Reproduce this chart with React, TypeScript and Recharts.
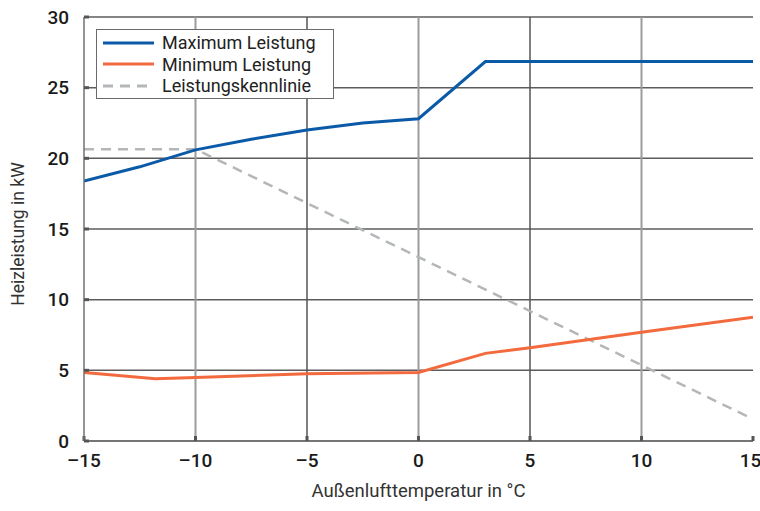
import {
  CartesianGrid,
  Label,
  Line,
  LineChart,
  ReferenceLine,
  XAxis,
  YAxis,
} from "recharts";

// Außentemperatur (°C) und Heizleistung (kW)
const MAX_TEMPS = [-15, -12.5, -10, -7.5, -5, -2.5, 0, 3, 15];
const MAX_KW = [18.4, 19.4, 20.6, 21.35, 22.0, 22.5, 22.8, 26.85, 26.85];

const MIN_TEMPS = [-15, -11.8, -10, -5, 0, 3, 5, 10, 15];
const MIN_KW = [4.85, 4.4, 4.5, 4.75, 4.85, 6.2, 6.6, 7.7, 8.75];

const CURVE_TEMPS = [-15, -10, 15];
const CURVE_KW = [20.65, 20.65, 1.55];

const X_TICKS = [-15, -10, -5, 0, 5, 10, 15];
const Y_TICKS = [0, 5, 10, 15, 20, 25, 30];

const SERIES = [
  { name: "Maximum Leistung", color: "#0b5aa7", dash: undefined as string | undefined },
  { name: "Minimum Leistung", color: "#f26a3d", dash: undefined as string | undefined },
  { name: "Leistungskennlinie", color: "#b3b7b9", dash: "10 7" },
];

const toPoints = (xs: number[], ys: number[]) => xs.map((t, i) => ({ t, kw: ys[i] }));

const maxData = toPoints(MAX_TEMPS, MAX_KW);
const minData = toPoints(MIN_TEMPS, MIN_KW);
const curveData = toPoints(CURVE_TEMPS, CURVE_KW);

const FONT = "Roboto, 'DejaVu Sans', sans-serif";
const fmt = (v: number) => (v < 0 ? `\u2013${-v}` : `${v}`);

function YTitle(props: any) {
  const vb = props.viewBox || {};
  const cy = (vb.y ?? 0) + (vb.height ?? 0) / 2 + 5;
  return (
    <text
      x={24}
      y={cy}
      transform={`rotate(-90, 24, ${cy})`}
      textAnchor="middle"
      fontSize={17.5}
      fill="#333"
      fontFamily={FONT}
    >
      Heizleistung in kW
    </text>
  );
}

function LegendBox() {
  return (
    <div
      style={{
        position: "absolute",
        left: 96,
        top: 29,
        width: 236,
        height: 66,
        border: "1px solid #6a6a6a",
        background: "#fff",
        fontFamily: FONT,
        fontSize: 18,
        color: "#222",
        paddingTop: 2,
        boxSizing: "content-box",
      }}
    >
      {SERIES.map((s) => (
        <div
          key={s.name}
          style={{ display: "flex", alignItems: "center", height: 21.5 }}
        >
          <svg width={51} height={8} style={{ marginLeft: 6, marginRight: 8 }}>
            <line
              x1={0}
              y1={4}
              x2={51}
              y2={4}
              stroke={s.color}
              strokeWidth={3}
              strokeDasharray={s.dash}
            />
          </svg>
          <span style={{ lineHeight: "21px" }}>{s.name}</span>
        </div>
      ))}
    </div>
  );
}

export default function App() {
  const tickStyle = { fill: "#1a1a1a", fontSize: 19, fontWeight: 500, fontFamily: FONT };
  const tickLine = { stroke: "#555", strokeWidth: 3 };
  const axisLine = { stroke: "#707070", strokeWidth: 1.5 };

  return (
    <div style={{ position: "absolute", left: 0, top: 0, width: 760, height: 511, background: "#fff" }}>
      <LineChart
        width={760}
        height={511}
        margin={{ top: 17, right: 7, bottom: 10, left: 0 }}
      >
        <CartesianGrid vertical={false} stroke="#5c5c5c" strokeWidth={1.5} />
        {X_TICKS.slice(1, -1).map((t, i) => (
          <ReferenceLine
            key={t}
            x={t}
            stroke={i % 2 === 0 ? "#9c9c9c" : "#555"}
            strokeWidth={i % 2 === 0 ? 2 : 1.5}
          />
        ))}
        <XAxis
          dataKey="t"
          type="number"
          domain={[-15, 15]}
          ticks={X_TICKS}
          tickFormatter={fmt}
          height={60}
          tickSize={-5}
          tickMargin={18}
          tick={tickStyle}
          tickLine={tickLine}
          axisLine={axisLine}
          allowDataOverflow
        >
          <Label
            value="Außenlufttemperatur in °C"
            position="insideBottom"
            offset={4}
            style={{ fontSize: 18.5, fill: "#333", fontFamily: FONT }}
          />
        </XAxis>
        <XAxis
          xAxisId="top"
          orientation="top"
          type="number"
          domain={[-15, 15]}
          ticks={X_TICKS}
          height={0}
          tick={false}
          tickSize={-5}
          tickLine={tickLine}
          axisLine={axisLine}
        />
        <YAxis
          type="number"
          domain={[0, 30]}
          ticks={Y_TICKS}
          width={84}
          tickSize={-5}
          tickMargin={20}
          tick={tickStyle}
          tickLine={tickLine}
          axisLine={axisLine}
          allowDataOverflow
        >
          <Label content={<YTitle />} />
        </YAxis>
        <YAxis
          yAxisId="right"
          orientation="right"
          type="number"
          domain={[0, 30]}
          ticks={Y_TICKS}
          width={0}
          tick={false}
          tickSize={-5}
          tickLine={tickLine}
          axisLine={axisLine}
        />
        <Line
          data={curveData}
          dataKey="kw"
          name={SERIES[2].name}
          type="linear"
          stroke={SERIES[2].color}
          strokeWidth={2.5}
          strokeDasharray={SERIES[2].dash}
          dot={false}
          isAnimationActive={false}
        />
        <Line
          data={minData}
          dataKey="kw"
          name={SERIES[1].name}
          type="linear"
          stroke={SERIES[1].color}
          strokeWidth={3}
          dot={false}
          isAnimationActive={false}
        />
        <Line
          data={maxData}
          dataKey="kw"
          name={SERIES[0].name}
          type="linear"
          stroke={SERIES[0].color}
          strokeWidth={3}
          dot={false}
          isAnimationActive={false}
        />
      </LineChart>
      <LegendBox />
    </div>
  );
}
